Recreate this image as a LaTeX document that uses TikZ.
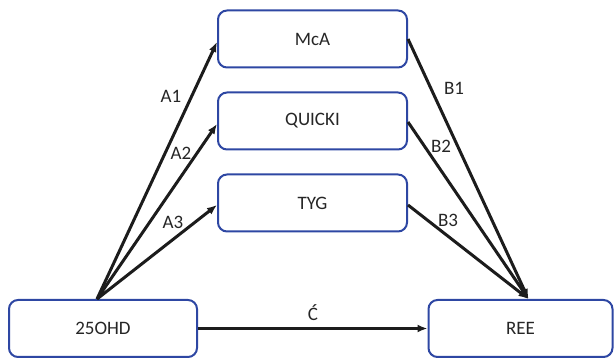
\documentclass[tikz,border=0pt]{standalone}
\usepackage{fontspec}
\setmainfont{Carlito}
\usetikzlibrary{arrows.meta,calc}
\definecolor{boxblue}{HTML}{2E47A3}
\definecolor{ink}{HTML}{1C1C1C}
\definecolor{txt}{HTML}{262626}
\begin{document}
\begin{tikzpicture}[x=1pt,y=-1pt,
  box/.style={draw=boxblue,line width=2pt,rounded corners=9pt,fill=white,
    minimum height=57pt,inner sep=0pt,font=\fontsize{19}{21}\selectfont,text=txt},
  arr/.style={draw=ink,line width=3pt,-{Latex[length=10pt,width=8pt]}},
  lab/.style={font=\fontsize{19}{21}\selectfont,text=txt,inner sep=0pt}]
\useasboundingbox (0,0) rectangle (614,358);
\node[box,minimum width=189pt] (mca) at (312.5,39) {McA};
\node[box,minimum width=189pt] (quicki) at (312.5,121) {QUICKI};
\node[box,minimum width=189pt] (tyg) at (312.5,203) {TYG};
\node[box,minimum width=188pt] (ohd) at (103,328.5) {25OHD};
\node[box,minimum width=184pt] (ree) at (520.5,328.5) {REE};
\coordinate (s) at ([xshift=-6pt]ohd.north);
\coordinate (e) at ([xshift=8pt]ree.north);
\draw[arr] (s) -- ([yshift=-3pt]mca.west);
\draw[arr] (s) -- ([yshift=-3pt]quicki.west);
\draw[arr] (s) -- ([yshift=-2pt]tyg.west);
\draw[arr] (mca.east) -- (e);
\draw[arr] ([yshift=-1pt]quicki.east) -- (e);
\draw[arr] ([yshift=-2pt]tyg.east) -- (e);
\draw[arr] (ohd.east) -- (ree.west);
\node[lab] (la1) at (171,96) {A1};
\node[lab] (la2) at (181,153) {A2};
\node[lab] (la3) at (173,222) {A3};
\node[lab] (lb1) at (454,88) {B1};
\node[lab] (lb2) at (441,146) {B2};
\node[lab] (lb3) at (448,220) {B3};
\node[lab] (lc) at (313,313) {Ć};
\end{tikzpicture}
\end{document}
